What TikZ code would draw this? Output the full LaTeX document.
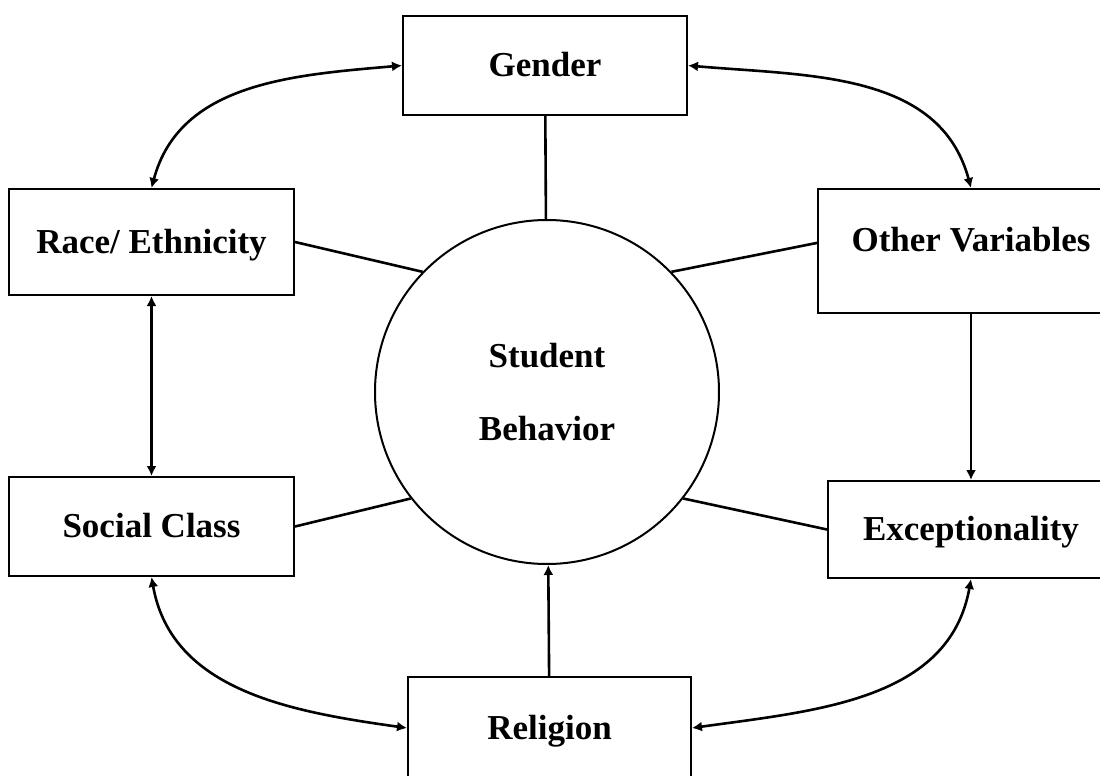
\documentclass[tikz,border=0pt]{standalone}
\usepackage{fontspec}
\setmainfont{Liberation Serif}
\usetikzlibrary{arrows.meta}
\tikzset{
  var box/.style 2 args={
    draw,
    line width=1pt,
    minimum width={#1},
    minimum height={#2},
    inner sep=0pt,
    text height=12pt,
    text depth=1pt,
    font=\fontsize{17.5}{21}\selectfont\bfseries,
  },
  hub/.style={
    circle,
    draw,
    line width=1pt,
    minimum size=172pt,
    align=center,
    font=\fontsize{17.5}{36.5}\selectfont\bfseries,
  },
  spoke/.style={
    line width=1.3pt,
  },
  link/.style={
    line width=1.3pt,
    <->,
  }
}

\begin{document}
\begin{tikzpicture}[x=0.5pt, y=0.5pt, >={Latex[length=5pt,width=5pt]}]
    \useasboundingbox (0,0) rectangle (1100,-776);

    \node [hub] (circ) at (547,-392) {Student\\Behavior};

    \node [var box={142pt}{49.5pt}] (gender) at (545,-65.5) {Gender};
    \node [var box={142.5pt}{53pt}] (race) at (151.5,-242) {Race/ Ethnicity};
    \node [var box={153pt}{62pt}, text depth=12pt] (other) at (971,-251) {Other Variables};
    \node [var box={142.5pt}{49.5pt}] (social) at (151.5,-526.5) {Social Class};
    \node [var box={143pt}{48.5pt}] (except) at (971,-529.5) {Exceptionality};
    \node [var box={141.5pt}{51pt}] (religion) at (549.5,-728) {Religion};

    % spokes into the circle
    \draw [spoke] (gender) -- (circ);
    \draw [spoke] (race.east) -- (circ.136);
    \draw [spoke] (other.177) -- (circ.44);
    \draw [spoke] (social.east) -- (circ.218);
    \draw [spoke] (except.west) -- (circ.322);
    \draw [spoke, ->] (religion) -- (circ);

    % outer ring
    \draw [link] (gender.west) to [out=185, in=75] (race.north);
    \draw [link] (gender.east) to [out=-5, in=105] (other.north);
    \draw [link] (race.south) -- (social.north);
    \draw [spoke, ->] (other.south) -- (except.north);
    \draw [link] (social.south) to [out=-80, in=172] (religion.west);
    \draw [link] (except.south) to [out=-100, in=8] (religion.east);
\end{tikzpicture}
\end{document}
